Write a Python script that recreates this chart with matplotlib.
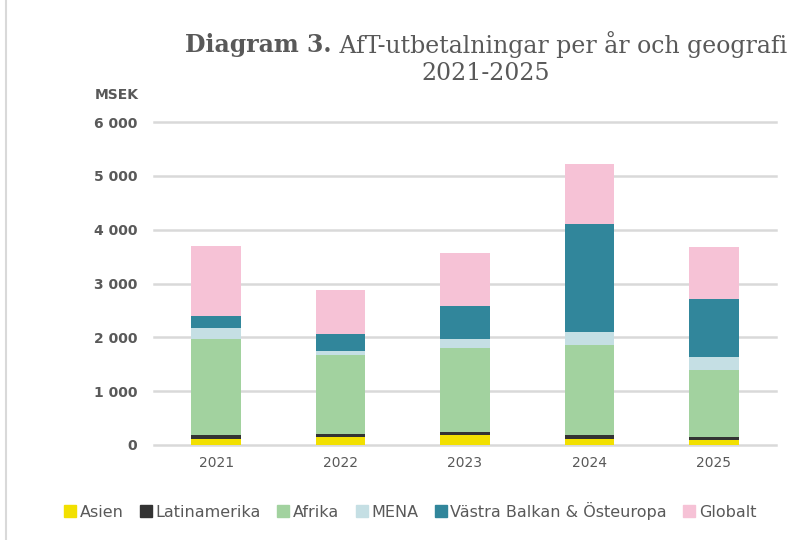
import numpy as np
import matplotlib.pyplot as plt
from matplotlib.lines import Line2D

# data (MSEK)
years = ['2021', '2022', '2023', '2024', '2025']
asien = [110, 150, 185, 110, 90]
latinamerika = [75, 55, 55, 75, 60]
afrika = [1780, 1460, 1560, 1675, 1245]
mena = [205, 90, 165, 240, 240]
balkan = [220, 300, 615, 2010, 1080]
globalt = [1300, 815, 985, 1115, 965]

series = [('Asien', asien, '#F2E000'),
          ('Latinamerika', latinamerika, '#333333'),
          ('Afrika', afrika, '#A2D29F'),
          ('MENA', mena, '#C5DFE4'),
          ('Västra Balkan & Östeuropa', balkan, '#31869B'),
          ('Globalt', globalt, '#F6C2D6')]

grey = '#595959'

fig = plt.figure(figsize=(7.98, 5.40), dpi=100)
ax = fig.add_axes([154/798, 95/540, 622/798, 323/540])

x = np.arange(len(years))
bottom = np.zeros(len(years))
for name, vals, col in series:
    ax.bar(x, vals, 0.4, bottom=bottom, color=col, label=name, zorder=3)
    bottom += np.array(vals)

ax.set_xlim(-0.5, len(years) - 0.5)
ax.set_ylim(0, 6000)
ax.set_yticks(range(0, 6001, 1000))
ax.set_yticklabels([f'{v:,}'.replace(',', ' ') for v in range(0, 6001, 1000)],
                   fontweight='bold', color=grey, fontsize=10)
ax.set_xticks(x)
ax.set_xticklabels(years, color=grey, fontsize=10)
ax.tick_params(length=0, pad=12)
ax.tick_params(axis='x', pad=8)
ax.grid(axis='y', color='#D9D9D9', linewidth=1.8, zorder=0)
for gl in ax.yaxis.get_gridlines():
    gl.set_clip_on(False)
for s in ax.spines.values():
    s.set_visible(False)

fig.text(95/798, 1 - 95/540, 'MSEK', fontweight='bold', color=grey,
         fontsize=10, va='center', ha='left')

# titel: fet början, sedan normal text
t1 = fig.text(0, 1 - 45/540, 'Diagram 3.', family='DejaVu Serif',
              fontweight='bold', color=grey, fontsize=17, va='center')
t2 = fig.text(0, 1 - 45/540, ' AfT-utbetalningar per år och geografi',
              family='DejaVu Serif', color=grey, fontsize=17, va='center')
fig.canvas.draw()
r = fig.canvas.get_renderer()
w1 = t1.get_window_extent(r).width
w2 = t2.get_window_extent(r).width
start = 486 - (w1 + w2) / 2
t1.set_x(start / 798)
t2.set_x((start + w1) / 798)
fig.text(486/798, 1 - 73/540, '2021-2025', family='DejaVu Serif',
         color=grey, fontsize=17, va='center', ha='center')

handles = [Line2D([], [], marker='s', linestyle='none', markersize=9,
                  markerfacecolor=c, markeredgecolor=c) for _, _, c in series]
fig.legend(handles, [n for n, _, _ in series], loc='center',
           bbox_to_anchor=(410/798, 1 - 511/540), ncol=6, frameon=False,
           fontsize=11.5, labelcolor=grey, handlelength=0.8,
           handletextpad=0.2, columnspacing=1.0)

fig.add_artist(Line2D([6/798, 6/798], [0, 1], color='#D9D9D9', linewidth=1.5))

fig.savefig('out.png', dpi=100)
